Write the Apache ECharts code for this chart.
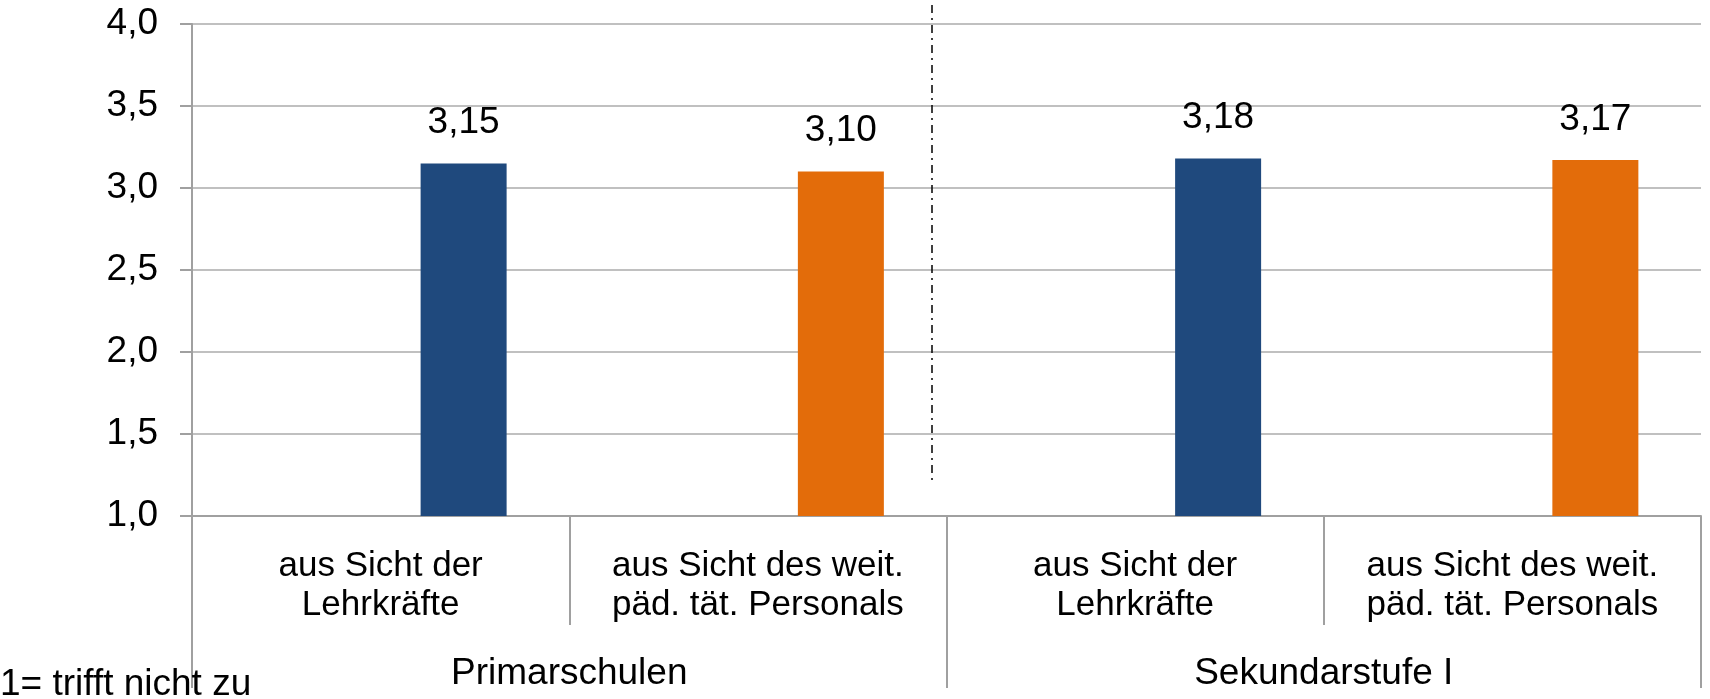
<!DOCTYPE html>
<html>
<head>
<meta charset="utf-8">
<script src="https://cdn.jsdelivr.net/npm/echarts@6/dist/echarts.min.js"></script>
<style>
html,body{margin:0;padding:0;background:#fff;}
.box{width:1710px;height:699px;}
</style>
</head>
<body>
<div class="box"></div>
<script>
// Kategorien (untere Achse) und Gruppen (zweite Ebene)
const categories = ["aus Sicht der\nLehrkräfte", "aus Sicht des weit.\npäd. tät. Personals", "aus Sicht der\nLehrkräfte", "aus Sicht des weit.\npäd. tät. Personals"];
const groups = ["Primarschulen", "Sekundarstufe I"];
const values = [3.15, 3.10, 3.18, 3.17];
const barColors = ["#1f497d", "#e36c0a", "#1f497d", "#e36c0a"];
const spacer = [null, null, null, null];
const note = "1= trifft nicht zu";

const font = "'Liberation Sans', Arial, sans-serif";
const gray = "#a0a0a0";

function comma(v, d){
    return Number(v).toFixed(d).replace(".", ",");
}

let mycharts = echarts.init(document.querySelector(".box"));
mycharts.setOption({
    backgroundColor:"#fff",
    animation:false,
    textStyle:{fontFamily:font},
    title:{
        text:note,
        left:0,
        top:666,
        padding:0,
        textStyle:{color:"#000", fontSize:37, fontWeight:"normal", fontFamily:font}
    },
    grid:{left:192, right:9, top:24, bottom:183},
    xAxis:[
        {
            type:"category",
            data:categories,
            axisLine:{lineStyle:{color:gray, width:2}},
            axisTick:{show:true, interval:0, length:109, lineStyle:{color:gray, width:2}},
            axisLabel:{interval:0, margin:31, color:"#000", fontSize:35, lineHeight:39, fontFamily:font}
        },
        {
            type:"category",
            data:groups,
            position:"bottom",
            axisLine:{show:false},
            axisTick:{show:true, interval:0, length:172, lineStyle:{color:gray, width:2}},
            axisLabel:{interval:0, margin:139, color:"#000", fontSize:37, fontFamily:font}
        }
    ],
    yAxis:{
        type:"value",
        min:1,
        max:4,
        interval:0.5,
        axisLine:{show:true, lineStyle:{color:gray, width:2}},
        axisTick:{show:true, length:12, lineStyle:{color:gray, width:2}},
        axisLabel:{margin:34, color:"#000", fontSize:37, fontFamily:font, formatter:function(v){return comma(v,1);}},
        splitLine:{lineStyle:{color:"#c0c0c0", width:2}}
    },
    series:[
        {
            name:"",
            type:"bar",
            xAxisIndex:0,
            barWidth:86,
            barGap:"93%",
            data:spacer
        },
        {
            name:"Mittelwert",
            type:"bar",
            xAxisIndex:0,
            barWidth:86,
            barGap:"93%",
            data:values.map(function(v, i){
                return {value:v, itemStyle:{color:barColors[i]}};
            }),
            label:{
                show:true,
                position:"top",
                distance:22,
                color:"#000",
                fontSize:37,
                fontFamily:font,
                formatter:function(p){return comma(p.value,2);}
            }
        }
    ],
    graphic:[
        {
            type:"line",
            z:10,
            shape:{x1:932, y1:5, x2:932, y2:481},
            style:{stroke:"#000", lineWidth:1.5, lineDash:[8,5,2,5]}
        }
    ]
});
</script>
</body>
</html>
